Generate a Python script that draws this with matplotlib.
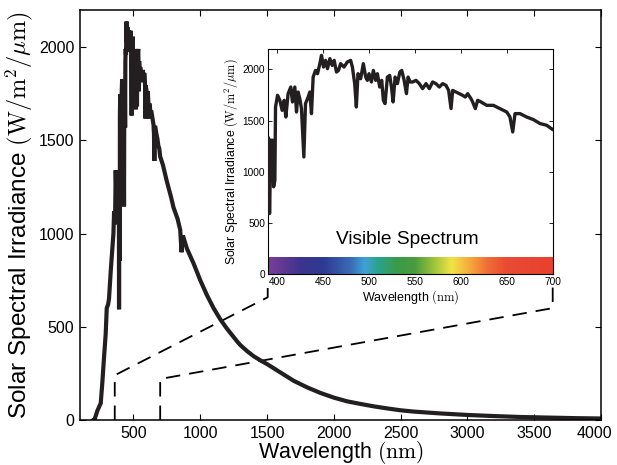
import numpy as np
import matplotlib
matplotlib.use("Agg")
import matplotlib.pyplot as plt
import matplotlib.transforms as mtransforms
from matplotlib.colors import LinearSegmentedColormap

plt.rcParams["font.family"] = ["Liberation Sans", "DejaVu Sans"]
plt.rcParams["mathtext.fontset"] = "cm"

# --------------------------------------------------
# Daten
# --------------------------------------------------

# UV-Bereich
uv_wl = [200, 210, 230, 255, 267, 280, 292, 300, 310, 317, 330, 342, 350, 355, 362, 367, 372, 380, 385]
uv_val = [0, 5, 50, 90, 200, 340, 460, 600, 620, 650, 800, 920, 1000, 1120, 1050, 1340, 1200, 1320, 1150]

# sichtbarer Bereich (Inset)
vis_wl = [390, 391, 392, 393.5, 395.3, 396.4, 397.8, 398.5, 400.7, 403.2, 405.7, 407.9, 409.7,
          412.2, 415.1, 416.9, 419.5, 421.3, 423.1, 424.9, 426.7, 429.3, 431.1, 434, 435.8,
          437.6, 439.4, 442, 444.2, 446.7, 448.5, 450.7, 452.9, 455, 457.6, 460.1, 462.3,
          464.8, 467, 469.3, 473, 476.6, 480.2, 482.1, 484.6, 486.4, 488.2, 491.1, 494,
          496.6, 498.4, 500.2, 502.8, 504.9, 507.5, 509.3, 511.8, 514, 515.8, 517.6, 520.2,
          522.7, 524.6, 526.4, 528.6, 531.1, 533.7, 535.8, 538.4, 540.9, 542.7, 544.9,
          547.7, 551.3, 554.9, 558.5, 562.2, 565.8, 569.4, 573, 576.7, 580.3, 583.9, 586.8,
          589.4, 591.2, 594.8, 598.4, 602, 604.9, 607.5, 611.1, 612.9, 615.8, 618.4, 622,
          628.2, 635.4, 642.7, 650, 653.5, 656.5, 659, 664.4, 671.7, 678.9, 686.2, 693.5, 700]
vis_val = [1341, 1330, 594, 1309, 1309, 854, 919, 1634, 1748, 1699, 1601, 1699, 1536,
           1764, 1829, 1683, 1829, 1585, 1780, 1715, 1618, 1146, 1667, 1731, 1780,
           1569, 1926, 1991, 1959, 2057, 2138, 2024, 2089, 2008, 2106, 2040, 2089,
           1975, 1991, 2057, 2024, 2073, 2089, 2024, 1862, 1634, 1959, 1910, 2057,
           1926, 1894, 1959, 1878, 1991, 1894, 1959, 1829, 1894, 1699, 1667, 1926,
           1942, 1829, 1683, 1926, 1862, 1975, 1991, 1894, 1764, 1926, 1878,
           1878, 1894, 1862, 1813, 1862, 1813, 1878, 1862, 1829, 1862, 1845, 1796,
           1618, 1796, 1780, 1764, 1748, 1731, 1764, 1715, 1683, 1618, 1699, 1683,
           1650, 1650, 1618, 1585, 1536, 1390, 1569, 1569, 1536, 1511, 1472, 1455, 1413]

# IR-Bereich
ir_wl = [720, 750, 780, 800, 830, 850, 860, 870, 900, 950, 1000, 1050, 1100, 1150, 1200,
         1250, 1280, 1300, 1350, 1400, 1450, 1500, 1600, 1700, 1800, 1900, 2000, 2100,
         2200, 2300, 2400, 2500, 2600, 2700, 2800, 2900, 3000, 3200, 3400, 3600, 3800, 4000]
ir_val = [1370, 1280, 1200, 1140, 1080, 1020, 900, 990, 920, 840, 750, 670, 600, 540, 490,
          445, 418, 402, 370, 342, 320, 300, 255, 210, 175, 145, 120, 100,
          86, 73, 62, 52, 45, 40, 35, 31, 27, 21, 16, 13, 10, 8]

wl = np.array(uv_wl + vis_wl + ir_wl, dtype=float)
irr = np.array(uv_val + vis_val + ir_val, dtype=float)

# Zoom-Bereich und Spektrumfarben
zoom_lo, zoom_hi = 360, 700
corner_lo, corner_hi = 240, 220
spec_wl = [390, 400, 425, 450, 480, 495, 510, 530, 550, 570, 590, 610, 630, 650, 700]
spec_col = ["#7a3e96", "#6a3a94", "#3c348f", "#2e3a92", "#3a6cb6", "#3fa2d8", "#2aa38c",
            "#3a9a4a", "#4a9c3e", "#9cc23c", "#f1e445", "#f6a83c", "#ee6c36", "#e94b33", "#e8412f"]

LINE = "#231f20"

# --------------------------------------------------
# Hauptdiagramm
# --------------------------------------------------

fig = plt.figure(figsize=(6.17, 4.65), dpi=100)
ax = fig.add_axes([0.1297, 0.0968, 0.8444, 0.8817])
ax.plot(wl, irr, color=LINE, lw=3.0, solid_joinstyle="miter")
ax.set_xlim(100, 4000)
ax.set_ylim(0, 2200)
ax.set_xticks(range(500, 4001, 500))
ax.set_yticks(range(0, 2001, 500))
ax.tick_params(direction="in", top=True, right=True, length=4, labelsize=11.5, width=0.8, pad=4)
ax.set_xlabel(r"Wavelength $(\mathrm{nm})$", fontsize=15.5, labelpad=-1)
ax.set_ylabel(r"Solar Spectral Irradiance $(\mathrm{W/m}^2/\mu\mathrm{m})$", fontsize=17.5, labelpad=3)
for s in ax.spines.values():
    s.set_linewidth(1.1)

# letztes Label etwas nach links, damit es nicht abgeschnitten wird
last = ax.get_xticklabels()[-1]
last.set_transform(last.get_transform() + mtransforms.ScaledTranslation(-5 / 72, 0, fig.dpi_scale_trans))

# --------------------------------------------------
# Inset
# --------------------------------------------------

axins = fig.add_axes([0.4339, 0.4101, 0.4619, 0.4845])
axins.plot(wl, irr, color=LINE, lw=2.4, zorder=3)
axins.set_xticks(range(400, 701, 50))
axins.set_yticks(range(0, 2001, 500))
axins.tick_params(direction="in", top=True, right=True, length=3, labelsize=7.3, pad=2, width=0.6)
axins.set_xlabel(r"Wavelength $(\mathrm{nm})$", fontsize=9, labelpad=1)
axins.set_ylabel(r"Solar Spectral Irradiance $(\mathrm{W/m}^2/\mu\mathrm{m})$", fontsize=8.8, labelpad=2)

pos = [(w - spec_wl[0]) / (spec_wl[-1] - spec_wl[0]) for w in spec_wl]
cmap = LinearSegmentedColormap.from_list("spec", list(zip(pos, spec_col)))
grad = np.linspace(0, 1, 512)[None, :]
axins.imshow(grad, cmap=cmap, aspect="auto", extent=(390, 700, 0, 160), zorder=2)
axins.set_xlim(390, 700)
axins.set_ylim(0, 2200)
axins.text(542, 340, "Visible Spectrum", ha="center", va="center", fontsize=13.8)

# --------------------------------------------------
# Verbindungslinien
# --------------------------------------------------

def inset_to_main(fx, fy):
    disp = axins.transAxes.transform((fx, fy))
    return ax.transData.inverted().transform(disp)

for x0, yc, fx, fy1, fy2 in [(zoom_lo, corner_lo, 0, -0.102, -0.036),
                             (zoom_hi, corner_hi, 1, -0.150, -0.048)]:
    p1 = inset_to_main(fx, fy1)
    p2 = inset_to_main(fx, fy2)
    ax.plot([x0, x0, p1[0], p2[0]], [0, yc, p1[1], p2[1]], color="black", lw=1.3,
            linestyle=(0, (8, 5)), clip_on=False, zorder=1)

fig.savefig("out.png", dpi=100)
